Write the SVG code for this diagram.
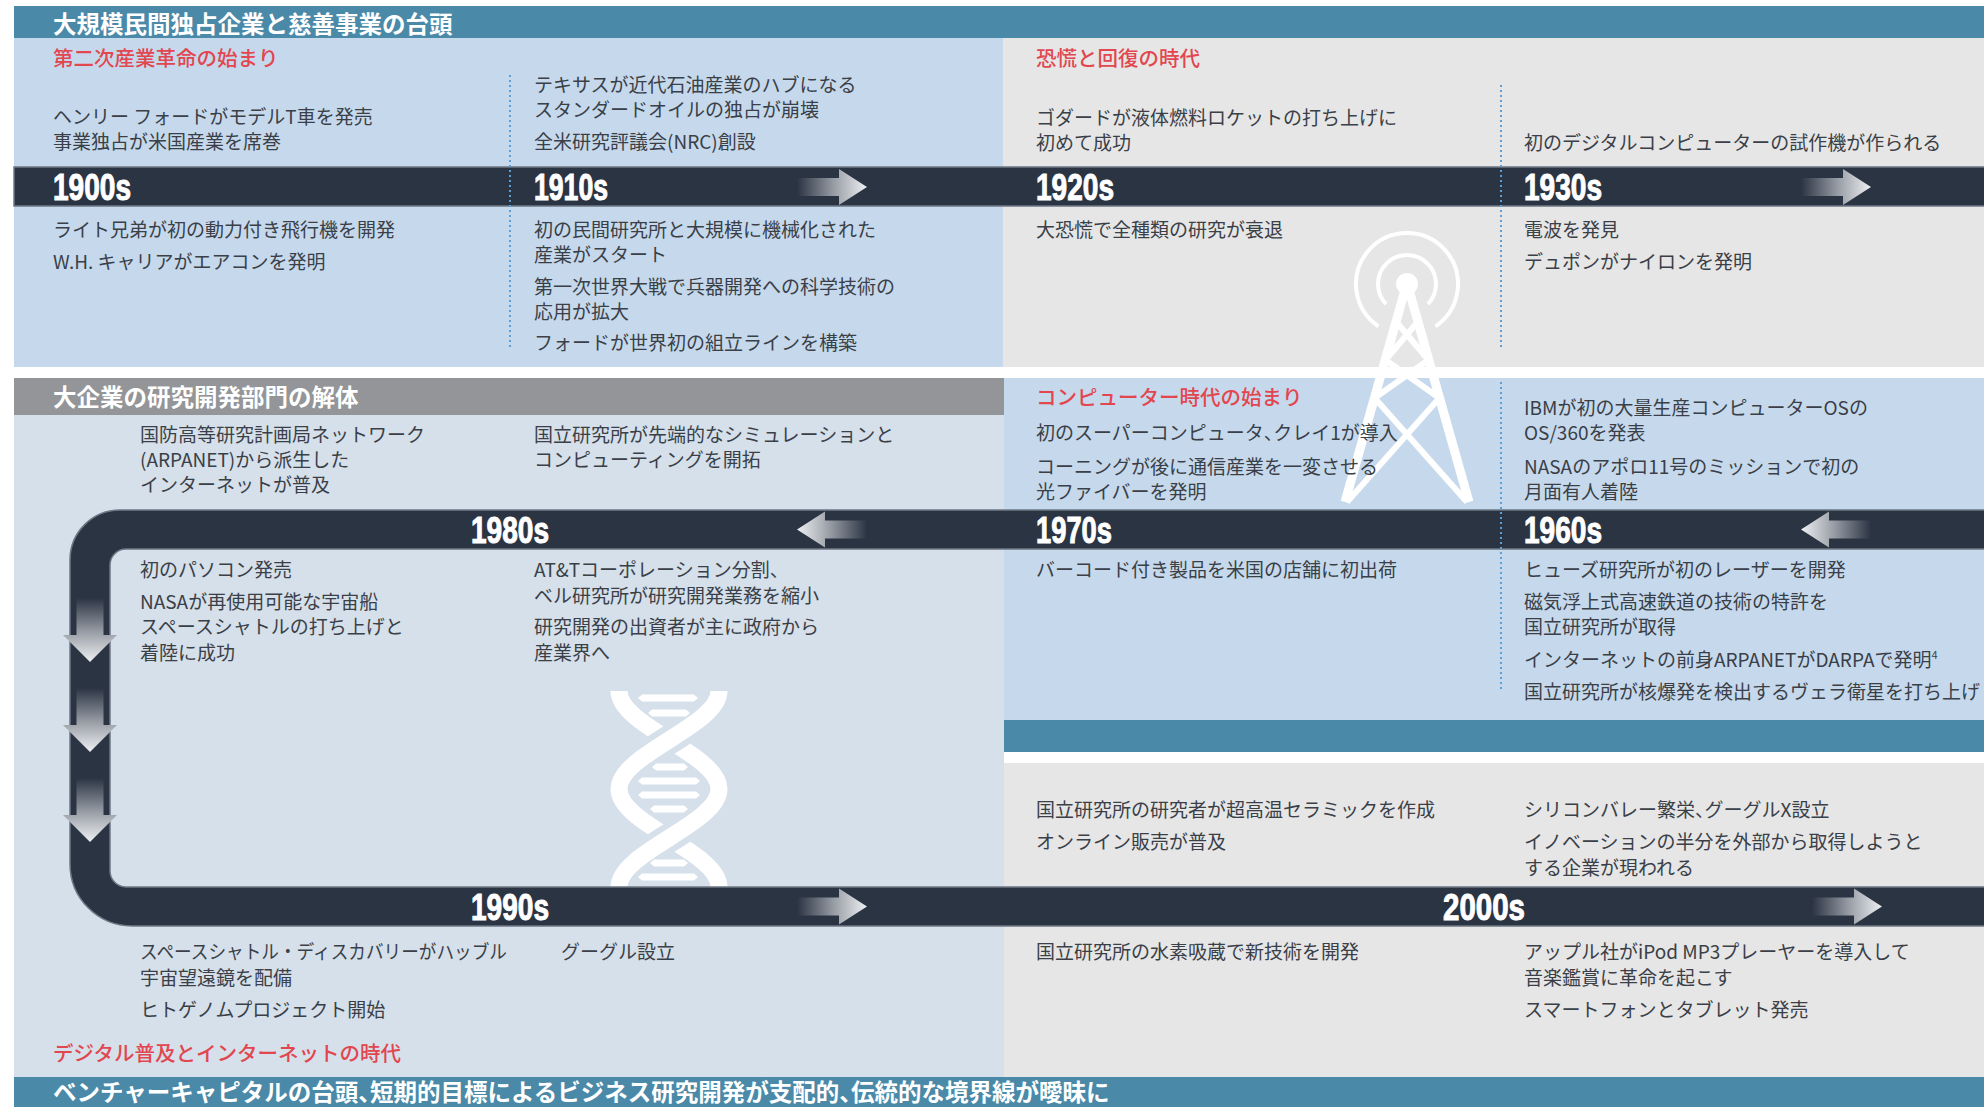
<svg xmlns="http://www.w3.org/2000/svg" xmlns:xlink="http://www.w3.org/1999/xlink" width="1984" height="1107" viewBox="0 0 1984 1107">
  <style>
    .t { font-family: "Noto Sans CJK JP", "Noto Sans", sans-serif; font-size: 19px; fill: #3a3f48; }
    .hd { font-family: "Noto Sans CJK JP", "Noto Sans", sans-serif; font-size: 23.5px; font-weight: 700; fill: #ffffff; }
    .era { font-family: "Noto Sans CJK JP", "Noto Sans", sans-serif; font-size: 20.5px; font-weight: 500; fill: #e2464f; }
    .dec { font-family: "Liberation Sans Narrow", "Liberation Sans", sans-serif; font-size: 36px; font-weight: 700; fill: #ffffff; stroke: #ffffff; stroke-width: 1; }
    .div { stroke: #5b9fd6; stroke-width: 2; stroke-dasharray: 2 3; fill: none; }
    .band { fill: #2b3443; stroke: #6f7784; stroke-width: 1.5; }
    .icon { fill: none; stroke: #ffffff; }
    .half { letter-spacing: -9.5px; }
    .halfh { letter-spacing: -11.75px; }
  </style>
  <defs>
    <linearGradient id="gradR" x1="0" y1="0" x2="1" y2="0">
      <stop offset="0" stop-color="#2b3443"/>
      <stop offset="0.55" stop-color="#9ca1a9"/>
      <stop offset="1" stop-color="#eef0f2"/>
    </linearGradient>
    <linearGradient id="gradD" x1="0" y1="0" x2="0" y2="1">
      <stop offset="0" stop-color="#2b3443"/>
      <stop offset="0.55" stop-color="#9ca1a9"/>
      <stop offset="1" stop-color="#eef0f2"/>
    </linearGradient>
    <path id="arrowR" d="M0,-9 H42 V-18 L70,0 L42,18 V9 H0 Z" fill="url(#gradR)"/>
    <path id="arrowD" d="M-13.5,0 V37 H-27 L0,64 L27,37 H13.5 V0 Z" fill="url(#gradD)"/>
    <clipPath id="clipTop"><rect x="600" y="714" width="140" height="52"/></clipPath>
    <clipPath id="clipBot"><rect x="600" y="812" width="140" height="52"/></clipPath>
  </defs>

  <rect width="1984" height="1107" fill="#ffffff"/>

  <!-- background panels -->
  <g id="panels">
    <rect x="14" y="38" width="989" height="329" fill="#c6d9ec"/>
    <rect x="1003" y="38" width="981" height="329" fill="#e6e6e6"/>
    <rect x="14" y="6" width="1970" height="32" fill="#4a8aa8"/>
    <rect x="14" y="378" width="990" height="699" fill="#d5e0ea"/>
    <rect x="14" y="378" width="990" height="37" fill="#939598"/>
    <rect x="1004" y="378" width="980" height="342" fill="#c6d9ec"/>
    <rect x="1004" y="720" width="980" height="32" fill="#4a8aa8"/>
    <rect x="1004" y="763" width="980" height="314" fill="#e6e6e6"/>
    <rect x="14" y="1077" width="1970" height="30" fill="#4a8aa8"/>
  </g>

  <!-- radio tower icon -->
  <g id="icon-tower" class="icon">
    <path d="M1386.1,304.1 A29,29 0 1 1 1427.9,304.1" stroke-width="4"/>
    <path d="M1378.5,326.3 A51,51 0 1 1 1435.5,326.3" stroke-width="4"/>
    <circle cx="1407" cy="284" r="11" fill="#ffffff" stroke="none"/>
    <g stroke-width="9" stroke-linejoin="round">
      <line x1="1405" y1="290" x2="1345" y2="502"/>
      <line x1="1409" y1="290" x2="1469" y2="502"/>
    </g>
    <g stroke-width="6">
      <line x1="1396.4" y1="322" x2="1428.5" y2="360"/>
      <line x1="1417.6" y1="322" x2="1385.5" y2="360"/>
      <line x1="1385.5" y1="360" x2="1439.4" y2="398"/>
      <line x1="1428.5" y1="360" x2="1374.6" y2="398"/>
      <line x1="1374.6" y1="398" x2="1467" y2="502"/>
      <line x1="1439.4" y1="398" x2="1347" y2="502"/>
    </g>
  </g>

  <!-- DNA helix icon -->
  <g id="icon-dna">
    <g class="icon" stroke-width="17">
      <path id="strandA" d="M619,691 C619,726 719,754 719,789 C719,824 619,852 619,887"/>
      <path id="strandB" d="M719,691 C719,726 619,754 619,789 C619,824 719,852 719,887"/>
    </g>
    <g clip-path="url(#clipTop)">
      <path d="M719,691 C719,726 619,754 619,789" fill="none" stroke="#d5e0ea" stroke-width="29"/>
      <path d="M719,691 C719,726 619,754 619,789" fill="none" stroke="#ffffff" stroke-width="17"/>
    </g>
    <g clip-path="url(#clipBot)">
      <path d="M719,789 C719,824 619,852 619,887" fill="none" stroke="#d5e0ea" stroke-width="29"/>
      <path d="M719,789 C719,824 619,852 619,887" fill="none" stroke="#ffffff" stroke-width="17"/>
    </g>
    <g fill="#ffffff">
      <polygon points="638,698 642,694.5 694,694.5 698,698 694,701.5 642,701.5"/>
      <polygon points="648,713 652,709.5 686,709.5 690,713 686,716.5 652,716.5"/>
      <polygon points="652,767 656,763.5 684,763.5 688,767 684,770.5 656,770.5"/>
      <polygon points="638,781 642,777.5 696,777.5 700,781 696,784.5 642,784.5"/>
      <polygon points="638,795 642,791.5 696,791.5 700,795 696,798.5 642,798.5"/>
      <polygon points="650,809 654,805.5 684,805.5 688,809 684,812.5 654,812.5"/>
      <polygon points="650,863 654,859.5 684,859.5 688,863 684,866.5 654,866.5"/>
      <polygon points="638,877 642,873.5 694,873.5 698,877 694,880.5 642,880.5"/>
    </g>
  </g>

  <!-- timeline bands and direction arrows -->
  <g id="connectors">
    <rect class="band" x="14" y="167" width="1972" height="39"/>
    <path class="band" d="M1986,510 H120 A50,50 0 0 0 70,560 V864 A62,62 0 0 0 132,926 H1986 V887 H126 A16,16 0 0 1 110,871 V565 A16,16 0 0 1 126,549 H1986 Z"/>
    <use xlink:href="#arrowR" transform="translate(797,187)"/>
    <use xlink:href="#arrowR" transform="translate(1801,187)"/>
    <use xlink:href="#arrowR" transform="translate(867,529.5) scale(-1,1)"/>
    <use xlink:href="#arrowR" transform="translate(1871,529.5) scale(-1,1)"/>
    <use xlink:href="#arrowR" transform="translate(797,906.5)"/>
    <use xlink:href="#arrowR" transform="translate(1812,906.5)"/>
    <use xlink:href="#arrowD" transform="translate(90,598)"/>
    <use xlink:href="#arrowD" transform="translate(90,688)"/>
    <use xlink:href="#arrowD" transform="translate(90,778)"/>
  </g>

  <!-- column dividers -->
  <g id="dividers">
    <line class="div" x1="510" y1="75" x2="510" y2="350"/>
    <line class="div" x1="1501" y1="85" x2="1501" y2="350"/>
    <line class="div" x1="1501" y1="382" x2="1501" y2="692"/>
  </g>

  <!-- section headings -->
  <g id="headings">
    <text class="hd" x="53" y="33">大規模民間独占企業と慈善事業の台頭</text>
    <text class="hd" x="53" y="406">大企業の研究開発部門の解体</text>
    <text class="hd" x="53" y="1101">ベンチャーキャピタルの台頭<tspan class="halfh">、</tspan>短期的目標によるビジネス研究開発が支配的<tspan class="halfh">、</tspan>伝統的な境界線が曖昧に</text>
  </g>

  <g id="era-1900s">
    <text class="era" x="53" y="66">第二次産業革命の始まり</text>
    <text class="t" x="53" y="124">ヘンリー フォードがモデルT車を発売</text>
    <text class="t" x="53" y="149">事業独占が米国産業を席巻</text>
    <text class="dec" x="53" y="200" textLength="78" lengthAdjust="spacingAndGlyphs">1900s</text>
    <text class="t" x="53" y="237">ライト兄弟が初の動力付き飛行機を開発</text>
    <text class="t" x="53" y="269">W.H. キャリアがエアコンを発明</text>
  </g>

  <g id="era-1910s">
    <text class="t" x="534" y="92">テキサスが近代石油産業のハブになる</text>
    <text class="t" x="534" y="117">スタンダードオイルの独占が崩壊</text>
    <text class="t" x="534" y="149">全米研究評議会(NRC)創設</text>
    <text class="dec" x="534" y="200" textLength="74" lengthAdjust="spacingAndGlyphs">1910s</text>
    <text class="t" x="534" y="237">初の民間研究所と大規模に機械化された</text>
    <text class="t" x="534" y="262">産業がスタート</text>
    <text class="t" x="534" y="294">第一次世界大戦で兵器開発への科学技術の</text>
    <text class="t" x="534" y="319">応用が拡大</text>
    <text class="t" x="534" y="350">フォードが世界初の組立ラインを構築</text>
  </g>

  <g id="era-1920s">
    <text class="era" x="1036" y="66">恐慌と回復の時代</text>
    <text class="t" x="1036" y="125">ゴダードが液体燃料ロケットの打ち上げに</text>
    <text class="t" x="1036" y="150">初めて成功</text>
    <text class="dec" x="1036" y="200" textLength="78" lengthAdjust="spacingAndGlyphs">1920s</text>
    <text class="t" x="1036" y="237">大恐慌で全種類の研究が衰退</text>
  </g>

  <g id="era-1930s">
    <text class="t" x="1524" y="150">初のデジタルコンピューターの試作機が作られる</text>
    <text class="dec" x="1524" y="200" textLength="78" lengthAdjust="spacingAndGlyphs">1930s</text>
    <text class="t" x="1524" y="237">電波を発見</text>
    <text class="t" x="1524" y="269">デュポンがナイロンを発明</text>
  </g>

  <g id="era-1980s">
    <text class="t" x="140" y="442">国防高等研究計画局ネットワーク</text>
    <text class="t" x="140" y="467">(ARPANET)から派生した</text>
    <text class="t" x="140" y="492">インターネットが普及</text>
    <text class="t" x="534" y="442">国立研究所が先端的なシミュレーションと</text>
    <text class="t" x="534" y="467">コンピューティングを開拓</text>
    <text class="dec" x="510" y="543" text-anchor="middle" textLength="78" lengthAdjust="spacingAndGlyphs">1980s</text>
    <text class="t" x="140" y="577">初のパソコン発売</text>
    <text class="t" x="140" y="609">NASAが再使用可能な宇宙船</text>
    <text class="t" x="140" y="634">スペースシャトルの打ち上げと</text>
    <text class="t" x="140" y="660">着陸に成功</text>
    <text class="t" x="534" y="577">AT&amp;Tコーポレーション分割、</text>
    <text class="t" x="534" y="603">ベル研究所が研究開発業務を縮小</text>
    <text class="t" x="534" y="634">研究開発の出資者が主に政府から</text>
    <text class="t" x="534" y="660">産業界へ</text>
  </g>

  <g id="era-1970s">
    <text class="era" x="1036" y="405">コンピューター時代の始まり</text>
    <text class="t" x="1036" y="440">初のスーパーコンピュータ<tspan class="half">、</tspan>クレイ1が導入</text>
    <text class="t" x="1036" y="474">コーニングが後に通信産業を一変させる</text>
    <text class="t" x="1036" y="499">光ファイバーを発明</text>
    <text class="dec" x="1036" y="543" textLength="76" lengthAdjust="spacingAndGlyphs">1970s</text>
    <text class="t" x="1036" y="577">バーコード付き製品を米国の店舗に初出荷</text>
  </g>

  <g id="era-1960s">
    <text class="t" x="1524" y="415">IBMが初の大量生産コンピューターOSの</text>
    <text class="t" x="1524" y="440">OS/360を発表</text>
    <text class="t" x="1524" y="474">NASAのアポロ11号のミッションで初の</text>
    <text class="t" x="1524" y="499">月面有人着陸</text>
    <text class="dec" x="1524" y="543" textLength="78" lengthAdjust="spacingAndGlyphs">1960s</text>
    <text class="t" x="1524" y="577">ヒューズ研究所が初のレーザーを開発</text>
    <text class="t" x="1524" y="609">磁気浮上式高速鉄道の技術の特許を</text>
    <text class="t" x="1524" y="634">国立研究所が取得</text>
    <text class="t" x="1524" y="667">インターネットの前身ARPANETがDARPAで発明<tspan font-size="11" dy="-8">4</tspan></text>
    <text class="t" x="1524" y="699">国立研究所が核爆発を検出するヴェラ衛星を打ち上げ</text>
  </g>

  <g id="era-1990s">
    <text class="dec" x="510" y="920" text-anchor="middle" textLength="78" lengthAdjust="spacingAndGlyphs">1990s</text>
    <text class="t" x="140" y="959" textLength="367" lengthAdjust="spacingAndGlyphs">スペースシャトル・ディスカバリーがハッブル</text>
    <text class="t" x="140" y="985">宇宙望遠鏡を配備</text>
    <text class="t" x="140" y="1017">ヒトゲノムプロジェクト開始</text>
    <text class="t" x="561" y="959">グーグル設立</text>
    <text class="era" x="53" y="1061">デジタル普及とインターネットの時代</text>
  </g>

  <g id="era-2000s">
    <text class="t" x="1036" y="817">国立研究所の研究者が超高温セラミックを作成</text>
    <text class="t" x="1036" y="849">オンライン販売が普及</text>
    <text class="t" x="1524" y="817">シリコンバレー繁栄<tspan class="half">、</tspan>グーグルX設立</text>
    <text class="t" x="1524" y="849">イノベーションの半分を外部から取得しようと</text>
    <text class="t" x="1524" y="875">する企業が現われる</text>
    <text class="dec" x="1484" y="920" text-anchor="middle" textLength="82" lengthAdjust="spacingAndGlyphs">2000s</text>
    <text class="t" x="1036" y="959">国立研究所の水素吸蔵で新技術を開発</text>
    <text class="t" x="1524" y="959">アップル社がiPod MP3プレーヤーを導入して</text>
    <text class="t" x="1524" y="985">音楽鑑賞に革命を起こす</text>
    <text class="t" x="1524" y="1017">スマートフォンとタブレット発売</text>
  </g>
</svg>
